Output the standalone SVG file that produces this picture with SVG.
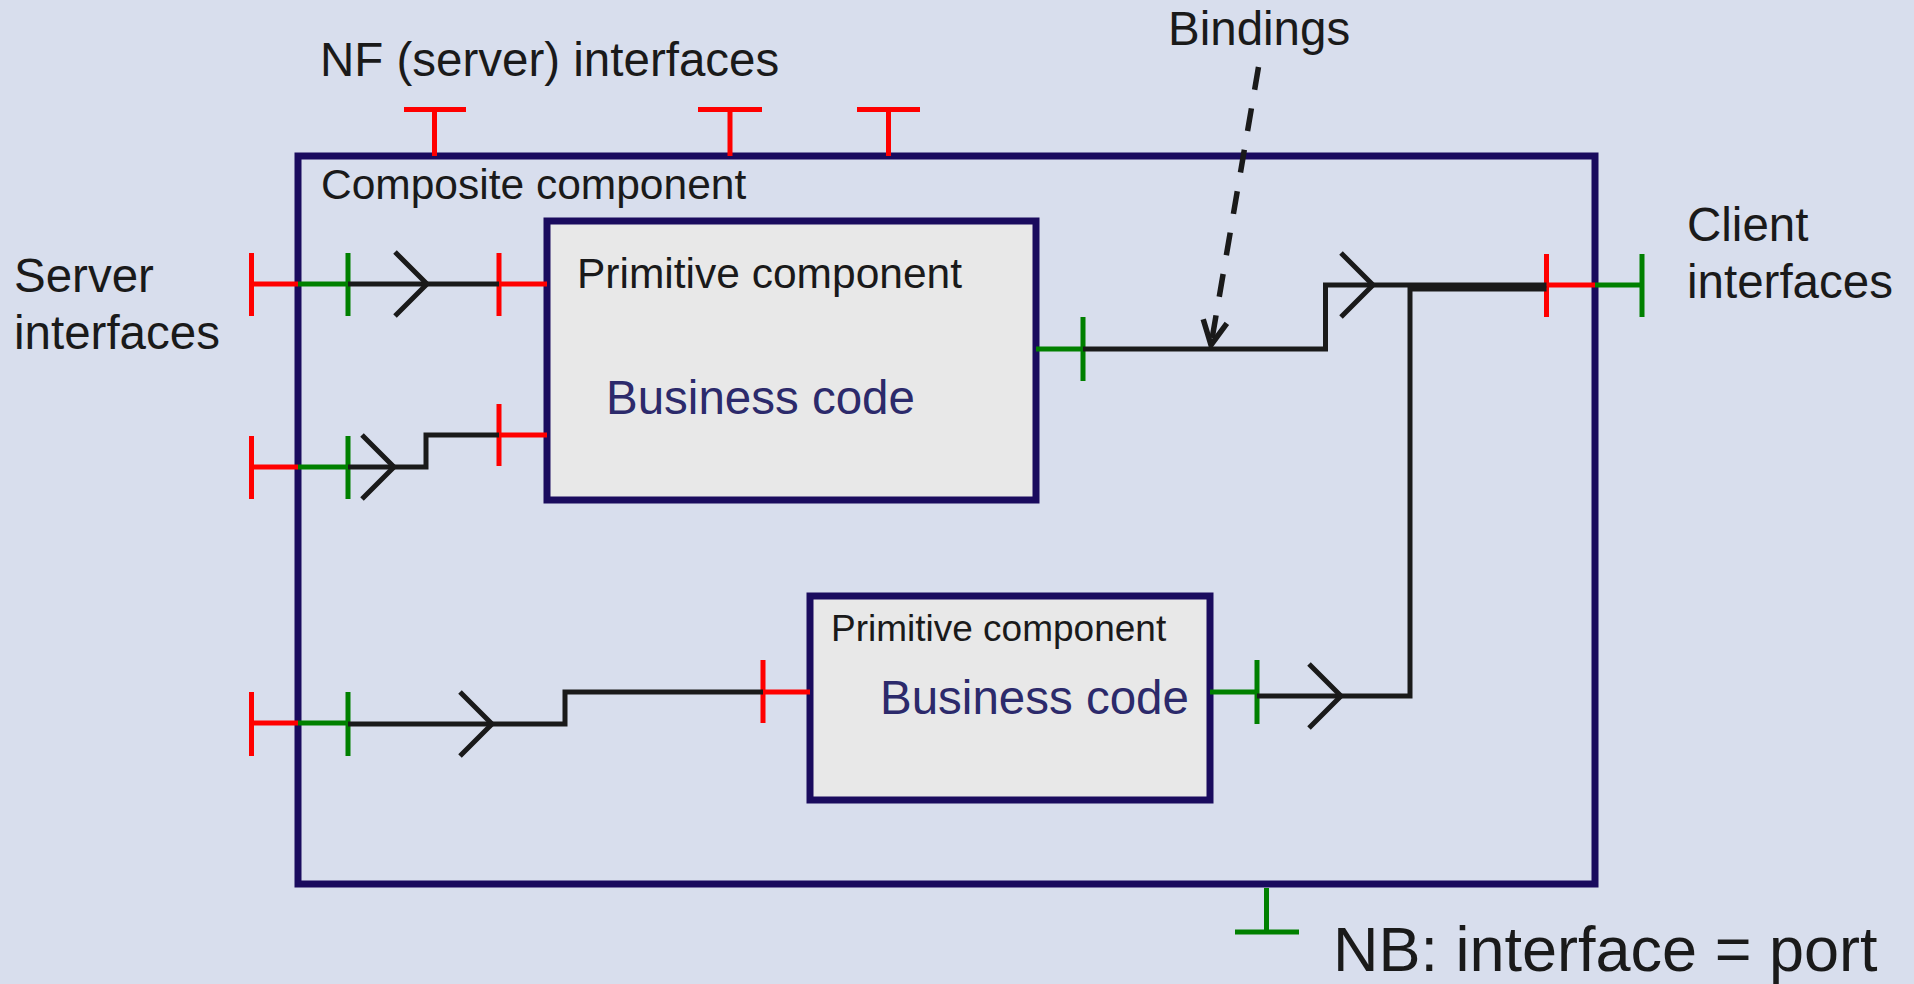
<svg xmlns="http://www.w3.org/2000/svg" xmlns:xlink="http://www.w3.org/1999/xlink" width="1914" height="984" viewBox="0 0 1914 984">
  <style>
    .box { stroke: #1a0b5e; stroke-width: 7; }
    .comp { fill: none; }
    .prim { fill: #e8e8e8; }
    .red { stroke: #ff0000; stroke-width: 5; fill: none; }
    .green { stroke: #008000; stroke-width: 5; fill: none; }
    .wire { stroke: #1a1a1a; stroke-width: 5; fill: none; stroke-linejoin: miter; }
    .dash { stroke: #1a1a1a; stroke-width: 5.5; fill: none; stroke-dasharray: 23 19; }
    text { font-family: "Liberation Sans", Arial, Helvetica, sans-serif; fill: #1a1a1a; }
    .lbl { font-size: 47.5px; }
    .hdr { font-size: 42.5px; }
    .small { font-size: 37px; }
    .code { font-size: 47.5px; fill: #2c2a6b; }
    .nb { font-size: 63px; }
  </style>
  <defs>
    <!-- open chevron used as the direction mark on bindings -->
    <path id="chev" d="M-32,-32 L0,0 L-32,32" fill="none" stroke="#1a1a1a" stroke-width="5"/>
    <marker id="openHead" viewBox="-28 -15 31 30" markerWidth="31" markerHeight="30" refX="0" refY="0" orient="auto" markerUnits="userSpaceOnUse">
      <path d="M-24,-12 L0,0 L-24,12" fill="none" stroke="#1a1a1a" stroke-width="5.5"/>
    </marker>
  </defs>

  <rect width="1914" height="984" fill="#d8deed"/>

  <!-- free labels -->
  <g id="labels">
    <text class="lbl" x="320" y="76">NF (server) interfaces</text>
    <text class="lbl" x="1168" y="45">Bindings</text>
    <text class="lbl" x="14" y="292">Server</text>
    <text class="lbl" x="14" y="349">interfaces</text>
    <text class="lbl" x="1687" y="241">Client</text>
    <text class="lbl" x="1687" y="298">interfaces</text>
    <text class="nb" x="1333" y="971">NB: interface = port</text>
  </g>

  <!-- composite component with its external ports -->
  <g id="composite">
    <rect class="box comp" x="298" y="156" width="1297" height="728"/>
    <text class="hdr" x="321" y="199">Composite component</text>
    <!-- non-functional server interfaces on top -->
    <path class="red" d="M404,109.5 H466 M434.5,109.5 V156"/>
    <path class="red" d="M698,109.5 H762 M730,109.5 V156"/>
    <path class="red" d="M857,109.5 H920 M888.5,109.5 V156"/>
    <!-- server interfaces (external red, internal green) -->
    <path class="red" d="M251.5,253 V316 M251.5,284 H298"/>
    <path class="green" d="M298,284 H348 M348,253 V316"/>
    <path class="red" d="M251.5,436 V499 M251.5,467 H298"/>
    <path class="green" d="M298,467 H348 M348,436 V499"/>
    <path class="red" d="M251.5,692 V756 M251.5,723 H298"/>
    <path class="green" d="M298,723 H348 M348,692 V756"/>
    <!-- client interface (internal red, external green) -->
    <path class="red" d="M1546.5,254 V317 M1546.5,285 H1595"/>
    <path class="green" d="M1595,285 H1642 M1642,254 V317"/>
    <!-- legend port -->
    <path class="green" d="M1266.5,888 V932 M1235,932 H1299"/>
  </g>

  <!-- first primitive component -->
  <g id="primitive-1">
    <rect class="box prim" x="547" y="221" width="489" height="279"/>
    <text class="hdr" x="577" y="288">Primitive component</text>
    <text class="code" x="606" y="414">Business code</text>
    <path class="red" d="M499,253 V316 M499,284 H547"/>
    <path class="red" d="M499,404 V466 M499,435 H547"/>
    <path class="green" d="M1036,349 H1083 M1083,317 V381"/>
  </g>

  <!-- second primitive component -->
  <g id="primitive-2">
    <rect class="box prim" x="810" y="596" width="400" height="204"/>
    <text class="small" x="831" y="641">Primitive component</text>
    <text class="code" x="880" y="714">Business code</text>
    <path class="red" d="M763,660 V723 M763,692 H810"/>
    <path class="green" d="M1210,692 H1257 M1257,660 V724"/>
  </g>

  <!-- bindings -->
  <g id="connectors">
    <path class="wire" d="M348,284 H499"/>
    <use xlink:href="#chev" x="427" y="284"/>
    <path class="wire" d="M348,467 H426 V435 H499"/>
    <use xlink:href="#chev" x="394" y="467"/>
    <path class="wire" d="M348,724 H565 V692 H763"/>
    <use xlink:href="#chev" x="492" y="724"/>
    <path class="wire" d="M1083,349 H1325.5 V285 H1546.5"/>
    <use xlink:href="#chev" x="1373" y="285"/>
    <path class="wire" d="M1257,696 H1410 V289 H1546.5"/>
    <use xlink:href="#chev" x="1341" y="696"/>
    <!-- annotation pointer -->
    <path class="dash" d="M1258.5,67 L1211,345" marker-end="url(#openHead)"/>
  </g>
</svg>
